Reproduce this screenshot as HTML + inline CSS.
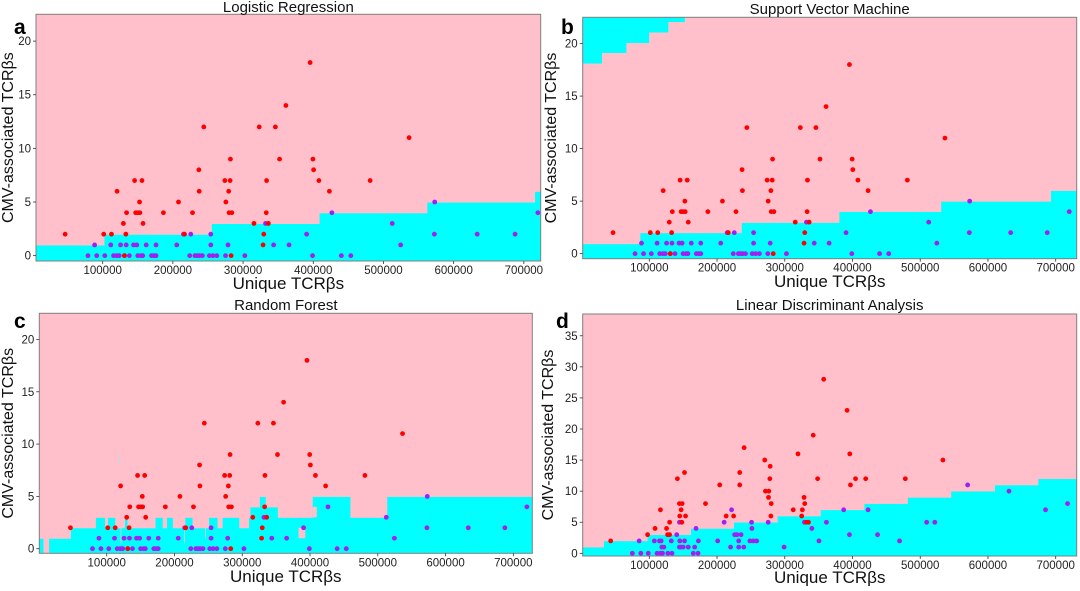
<!DOCTYPE html>
<html><head><meta charset="utf-8">
<style>
html,body{margin:0;padding:0;background:#fff;}
svg text{font-family:"Liberation Sans","DejaVu Sans",sans-serif;}
</style></head>
<body>
<svg id="fig" width="1080" height="586" viewBox="0 0 1080 586" xmlns="http://www.w3.org/2000/svg"></svg>
<script>
// ---- shared data (x in thousands of unique TCRβs, y = CMV-associated TCRβs) ----
const redX = [46.5,101.5,112.5,120.5,129.5,134,133,131,145.5,147,150,153,152.5,156,157.5,186.5,208,216.5,228,237,237.5,244,274,275.5,279.5,281.5,282,280,284,283,315.5,323,328.5,329.5,333.5,333,336,346,352,361,395.5,399.5,400.5,408,423,481,536.5];
const redY = [2,2,2,6,3,4,2,0,7,4,4,4,5,7,3,4,5,2,4,8,6,12,7,5,6,7,9,4,4,0,3,12,1,2,7,4,3,12,9,14,18,9,8,7,6,7,11];
const purX = [79,91.5,103,115.5,120,123.5,131,138,150,154.5,157,169.5,173,176,224,231.5,235,238,242,252,257,262.5,275,302.5,399,440,453.5,
  88.5,111.5,125.5,133.5,144,148.5,162,176,205.5,254,278.5,343.5,365.5,524.5,
  215,225.5,254,390.5,572.5,633.5,687.5, 332,512.5, 426.5,720, 573];
const purY = [0,0,0,0,0,0,0,0,0,0,0,0,0,0,0,0,0,0,0,0,0,0,0,0,0,0,0,
  1,1,1,1,1,1,1,1,1,1,1,1,1,1,
  2,2,2,2,2,2,2, 3,3, 4,4, 5];
// ---- LDA panel data ----
const dRedX = [43,97.5,108.5,116.5,125.5,127,130,130,141.5,144.5,148.5,145,147,148,152,153.5,183,204,213.5,224.5,233.5,233.5,240,270.5,271.5,276.5,276,278.5,278,280,279.5,312.5,319.5,326,325,328.5,329.5,332,335,342,348.5,357.5,392,396,397,404.5,419.5,478,533.5];
const dRedY = [2,3,4,7,4,3,3,5,12,8,8,6,7,5,13,6,8,11,6,6,13,11,17,15,10,10,9,14,12,8,6,7,16,7,6,9,8,5,5,19,12,28,23,16,11,12,12,12,15];
const dPurX = [75,87.5,98.5,111.5,116.5,119.5,127.5,133.5,165,172,
  118.5,121.5,144.5,146.5,150,157.5,167,220,232,239.5,299,
  85,107.5,115,117.5,132.5,145,152,172.5,201,232,248.5,253.5,258.5,350.5,469.5,
  140.5,226,229.5,235.5,395.5,437, 169,251.5,340,
  144.5,210.5,251,275.5,329,361.5,509.5,521.5, 221.5,387,423,685, 717.5, 631, 570];
const dPurY = [0,0,0,0,0,0,0,0,0,0, 1,1,1,1,1,1,1,1,1,1,1,
  2,2,2,2,2,2,2,2,2,2,2,2,2,2,2, 3,3,3,3,3,3, 4,4,4,
  5,5,5,5,5,5,5,5, 7,7,7,7, 8, 10, 11];
// ---- decision boundaries ----
const lrEdges = [102.5,255.5,409,562.5,716];
const lrLevels = [0.95,1.95,2.95,3.95,4.95,5.95];
const svmEdges = [86.8,236.5,380.7,531,693];
const svmLevels = [0.9,1.95,2.93,3.97,4.95,5.97];
const svmTopEdges = [29.4,65.5,99,127.4,151.8];
const svmTopLevels = [18.1,19.1,20.05,21.05,22.05];
const ldaEdges = [33,97.5,161.5,225,289.6,353,417.6,481.7,545.8,610.3,674.4];
const ldaLevels = [0.95,1.95,2.95,3.95,4.95,5.95,6.95,7.95,8.95,9.95,10.95,11.95];
// random forest cyan blocks: start x, end x, top y
const rfStart = [0,15,47,84,97,102,112,127,130,172,182,189,197,216,226,251,263,271,295,310,312,326,334,352,404,410,459,514];
const rfEnd   = [6,47,84,97,102,112,127,130,172,182,189,197,216,226,251,263,271,295,310,312,326,334,352,404,410,459,514,730];
const rfTop   = [0.95,0.95,1.95,2.95,1.95,2.95,1.95,2.95,1.95,2.95,1.95,2.95,1.95,2.95,1.95,2.95,1.95,2.95,1.95,2.95,3.95,4.95,3.95,2.95,4.95,4.95,2.95,4.95];
// pink holes in RF: x0, x1, y0, y1
const rfHoleX0 = [383,404,120.5,214.5,245];
const rfHoleX1 = [393,410,121.5,215.5,246];
const rfHoleY0 = [1,3,0.5,0.5,1];
const rfHoleY1 = [2,4,2,2,2];
const rfIslandX = [117.5,118.5]; const rfIslandY = [8,9];

const xTicks = [100,200,300,400,500,600,700];
const xTickLabels = ["100000","200000","300000","400000","500000","600000","700000"];
const yTicksA = [0,5,10,15,20];
const yTicksD = [0,5,10,15,20,25,30,35];

const NS = "http://www.w3.org/2000/svg";
const svg = document.getElementById('fig');
function mk(tag, attrs, parent){const e=document.createElementNS(NS,tag);for(const k in attrs)e.setAttribute(k,attrs[k]);(parent||svg).appendChild(e);return e;}

const PINK="#ffc0cb", CYAN="#00ffff", RED="#ff0000", PURP="#a020f0";

function panel(cfg){
  const g = mk('g',{});
  
  
  const sx = v => cfg.px0 + (v - cfg.x0)/(cfg.x1 - cfg.x0)*(cfg.px1 - cfg.px0);
  const sy = v => cfg.py1 - (v - cfg.y0)/(cfg.y1 - cfg.y0)*(cfg.py1 - cfg.py0);
  const clipId = 'clip-' + cfg.name;
  const cp = mk('clipPath',{id:clipId},g);
  mk('rect',{x:cfg.px0,y:cfg.py0,width:cfg.px1-cfg.px0,height:cfg.py1-cfg.py0},cp);
  const area = mk('g',{'clip-path':'url(#'+clipId+')'},g);
  const bg = mk('rect',{x:cfg.px0,y:cfg.py0,width:cfg.px1-cfg.px0,height:cfg.py1-cfg.py0,fill:PINK},area);
  
  
  const reg = mk('g',{},area);
  
  
  cfg.regions(reg, sx, sy);
  const dots = mk('g',{},area);
  
  
  cfg.purX.forEach((x,i)=>{
    const c = mk('circle',{cx:sx(x),cy:sy(cfg.purY[i]),r:2.4,fill:PURP},dots);
    
    
  });
  cfg.redX.forEach((x,i)=>{
    const c = mk('circle',{cx:sx(x),cy:sy(cfg.redY[i]),r:2.4,fill:RED},dots);
    
    
  });
  const fr = mk('rect',{x:cfg.px0,y:cfg.py0,width:cfg.px1-cfg.px0,height:cfg.py1-cfg.py0,fill:'none',stroke:'#7f7f7f','stroke-width':1},g);
  
  
  xTicks.forEach((t,i)=>{
    const X = sx(t);
    mk('line',{x1:X,x2:X,y1:cfg.py1,y2:cfg.py1+3,stroke:'#333','stroke-width':0.8},g);
    const tx = mk('text',{x:X,y:cfg.py1+13,'font-size':11.5,'text-anchor':'middle',fill:'#222'},g);
    tx.textContent = xTickLabels[i];
    
    
  });
  cfg.yTicks.forEach(t=>{
    const Y = sy(t);
    mk('line',{x1:cfg.px0-3,x2:cfg.px0,y1:Y,y2:Y,stroke:'#333','stroke-width':0.8},g);
    const ty = mk('text',{x:cfg.px0-5,y:Y+4,'font-size':11.5,'text-anchor':'end',fill:'#222'},g);
    ty.textContent = String(t);
    
    
  });
  const cx = (cfg.px0+cfg.px1)/2, cy=(cfg.py0+cfg.py1)/2;
  const ti = mk('text',{x:cx,y:cfg.titleY,'font-size':15,'text-anchor':'middle',fill:'#111'},g);
  ti.textContent = cfg.title;
  
  
  const xl = mk('text',{x:cx,y:cfg.xlabY,'font-size':17,'text-anchor':'middle',fill:'#111'},g);
  xl.textContent = 'Unique TCRβs';
  
  
  const yl = mk('text',{x:0,y:0,'font-size':16,'text-anchor':'middle',fill:'#111',transform:'translate('+cfg.ylabX+','+cy+') rotate(-90)'},g);
  yl.textContent = 'CMV-associated TCRβs';
  
  
  const lt = mk('text',{x:cfg.letX,y:cfg.letY,'font-size':21,'font-weight':'bold',fill:'#000'},g);
  lt.textContent = cfg.letter;
  
  
}

function steps(reg, sx, sy, edges, levels, yBottom, xMin, xMax){
  const xs = [xMin].concat(edges).concat([xMax]);
  for(let i=0;i<levels.length;i++){
    const r = mk('rect',{x:sx(xs[i]),y:sy(levels[i]),width:sx(xs[i+1])-sx(xs[i])+0.5,height:sy(yBottom)-sy(levels[i]),fill:CYAN},reg);
    
    
  }
}

panel({name:'logistic-regression-panel',title:'Logistic Regression',letter:'a',
  px0:36,px1:540.7,py0:14.3,py1:261,x0:5,x1:724,y0:-0.5,y1:22.5,yTicks:yTicksA,
  titleY:12,xlabY:289,ylabX:13,letX:14,letY:34,
  redX:redX,redY:redY,purX:purX,purY:purY,
  regions:(reg,sx,sy)=>steps(reg,sx,sy,lrEdges,lrLevels,-1,-10,760)});

panel({name:'svm-panel',title:'Support Vector Machine',letter:'b',
  px0:582.7,px1:1076.7,py0:17.3,py1:258.7,x0:1.7,x1:731,y0:-0.48,y1:22.5,yTicks:yTicksA,
  titleY:14,xlabY:287,ylabX:556,letX:561,letY:34,
  redX:redX,redY:redY,purX:purX,purY:purY,
  regions:(reg,sx,sy)=>{
    steps(reg,sx,sy,svmEdges,svmLevels,-1,-10,760);
    const xs=[-10].concat(svmTopEdges);
    for(let i=0;i<svmTopLevels.length;i++){
      const r=mk('rect',{x:sx(xs[i]),y:sy(24),width:sx(xs[i+1])-sx(xs[i])+0.5,height:sy(svmTopLevels[i])-sy(24),fill:CYAN},reg);
      
      
    }
  }});

panel({name:'random-forest-panel',title:'Random Forest',letter:'c',
  px0:39.3,px1:532.3,py0:313.3,py1:553.3,x0:0.5,x1:728,y0:-0.44,y1:22.5,yTicks:yTicksA,
  titleY:310,xlabY:582,ylabX:13,letX:14,letY:328,
  redX:redX,redY:redY,purX:purX,purY:purY,
  regions:(reg,sx,sy)=>{
    for(let i=0;i<rfStart.length;i++){
      const r=mk('rect',{x:sx(rfStart[i]),y:sy(rfTop[i]),width:sx(rfEnd[i])-sx(rfStart[i])+0.4,height:sy(-1)-sy(rfTop[i]),fill:CYAN},reg);
      
      
    }
    for(let i=0;i<rfHoleX0.length;i++){
      const r=mk('rect',{x:sx(rfHoleX0[i]),y:sy(rfHoleY1[i]),width:sx(rfHoleX1[i])-sx(rfHoleX0[i]),height:sy(rfHoleY0[i])-sy(rfHoleY1[i]),fill:PINK},reg);
      
      
    }
    const r=mk('rect',{x:sx(rfIslandX[0]),y:sy(rfIslandY[1]),width:sx(rfIslandX[1])-sx(rfIslandX[0]),height:sy(rfIslandY[0])-sy(rfIslandY[1]),fill:'#9fe8ea'},reg);
    
    
  }});

panel({name:'lda-panel',title:'Linear Discriminant Analysis',letter:'d',
  px0:582.7,px1:1076.7,py0:314,py1:556,x0:1.7,x1:731,y0:-0.43,y1:38.5,yTicks:yTicksD,
  titleY:310,xlabY:583,ylabX:553,letX:556,letY:328,
  redX:dRedX,redY:dRedY,purX:dPurX,purY:dPurY,
  regions:(reg,sx,sy)=>steps(reg,sx,sy,ldaEdges,ldaLevels,-1,-10,760)});
</script>
</body></html>
